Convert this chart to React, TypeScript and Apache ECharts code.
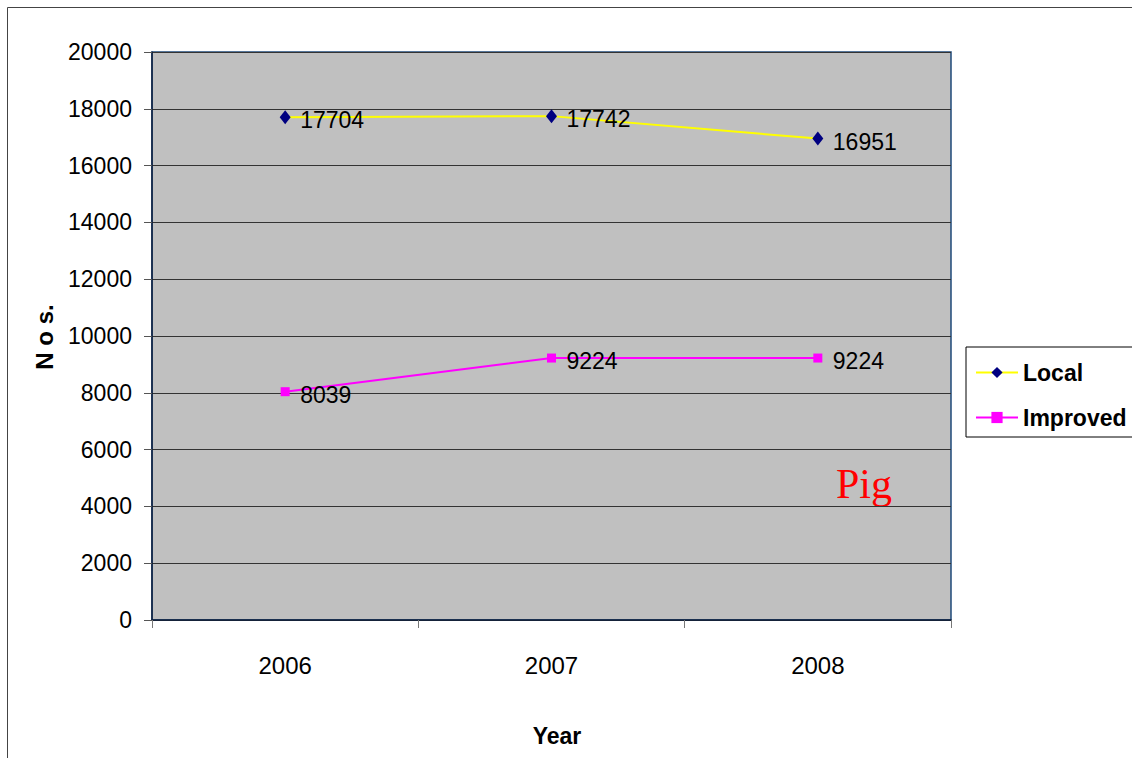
import React, { useEffect, useRef } from "react";
import * as echarts from "echarts";

const years = ["2006", "2007", "2008"];
const localValues = [17704, 17742, 16951];
const improvedValues = [8039, 9224, 9224];
const yTicks = { min: 0, max: 20000, interval: 2000 };

const FONT = "'Liberation Sans', Arial, sans-serif";

export default function App() {
  const ref = useRef<HTMLDivElement>(null);
  useEffect(() => {
    document.body.style.margin = "0";
    const chart = echarts.init(ref.current!, undefined, { renderer: "svg" });
    chart.setOption({
      animation: false,
      backgroundColor: "#ffffff",
      grid: {
        left: 152,
        top: 52,
        right: 181,
        bottom: 138,
        show: true,
        backgroundColor: "#C0C0C0",
        borderColor: "#1F4A7A",
        borderWidth: 1.5,
      },
      xAxis: {
        type: "category",
        data: years,
        boundaryGap: true,
        axisLine: { lineStyle: { color: "#0C1E3C", width: 1.5 } },
        axisTick: { show: true, length: 8, lineStyle: { color: "#777" } },
        axisLabel: { color: "#000", fontFamily: FONT, fontSize: 24, margin: 33 },
        splitLine: { show: false },
      },
      yAxis: {
        type: "value",
        min: yTicks.min,
        max: yTicks.max,
        interval: yTicks.interval,
        axisLine: { show: true, lineStyle: { color: "#0C1E3C", width: 1.5 } },
        axisTick: { show: true, length: 8, lineStyle: { color: "#555" } },
        axisLabel: {
          color: "#000",
          fontFamily: FONT,
          fontSize: 23,
          margin: 20,
          formatter: (v: number) => String(v),
        },
        splitLine: { show: true, lineStyle: { color: "#333", width: 1 } },
      },
      legend: {
        orient: "vertical",
        left: 966,
        top: 347,
        backgroundColor: "#fff",
        borderColor: "#000",
        borderWidth: 1,
        borderRadius: 0,
        padding: [14, 40, 8, 9],
        itemWidth: 42,
        itemHeight: 14,
        itemGap: 22,
        textStyle: { color: "#000", fontFamily: FONT, fontSize: 23, fontWeight: "bold" },
        data: ["Local", "Improved"],
      },
      graphic: [
        {
          type: "rect",
          shape: { x: 7.5, y: 7.5, width: 1300, height: 900 },
          style: { fill: "none", stroke: "#444", lineWidth: 1 },
          silent: true,
        },
        {
          type: "text",
          x: 44,
          y: 337,
          rotation: Math.PI / 2,
          style: {
            text: "N o s.",
            fontFamily: FONT,
            fontSize: 24,
            fontWeight: "bold",
            fill: "#000",
            align: "center",
            verticalAlign: "middle",
          },
        },
        {
          type: "text",
          x: 557,
          y: 736,
          style: {
            text: "Year",
            fontFamily: FONT,
            fontSize: 23,
            fontWeight: "bold",
            fill: "#000",
            align: "center",
            verticalAlign: "middle",
          },
        },
        {
          type: "text",
          x: 836,
          y: 484,
          style: {
            text: "Pig",
            fontFamily: "'Liberation Serif', 'Times New Roman', serif",
            fontSize: 42,
            fill: "#FF0000",
            align: "left",
            verticalAlign: "middle",
          },
        },
      ],
      series: [
        {
          name: "Local",
          type: "line",
          data: localValues,
          symbol: "diamond",
          symbolSize: [11, 14],
          lineStyle: { color: "#FFFF00", width: 2 },
          itemStyle: { color: "#000080" },
          label: {
            show: true,
            position: "right",
            distance: 9.5,
            offset: [0, 3],
            color: "#000",
            fontFamily: FONT,
            fontSize: 23,
          },
        },
        {
          name: "Improved",
          type: "line",
          data: improvedValues,
          symbol: "rect",
          symbolSize: 9,
          lineStyle: { color: "#FF00FF", width: 2 },
          itemStyle: { color: "#FF00FF" },
          label: {
            show: true,
            position: "right",
            distance: 10.5,
            offset: [0, 3],
            color: "#000",
            fontFamily: FONT,
            fontSize: 23,
          },
        },
      ],
    });
    return () => chart.dispose();
  }, []);
  return <div ref={ref} style={{ width: 1132, height: 758 }} />;
}
